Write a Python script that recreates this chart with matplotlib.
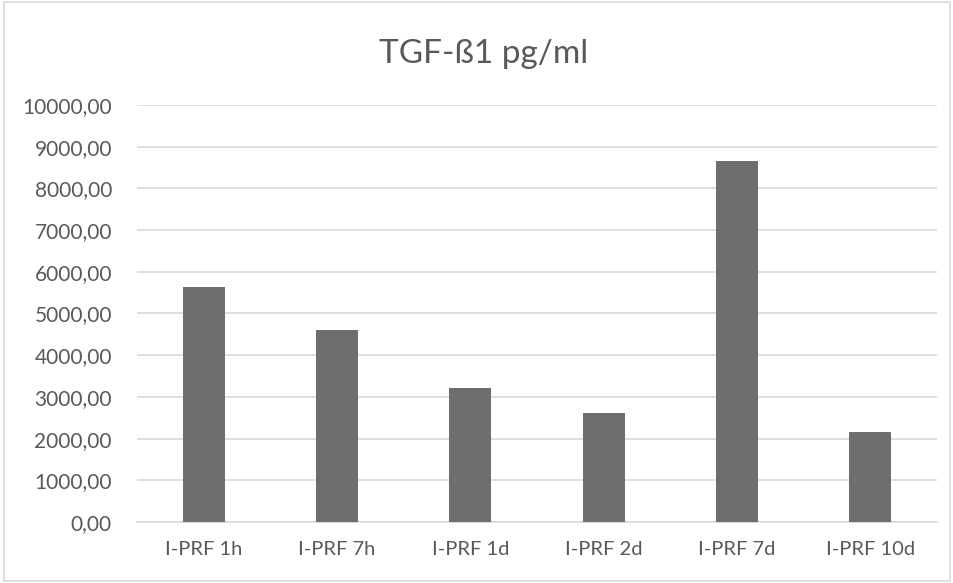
import matplotlib.pyplot as plt
from matplotlib.patches import Rectangle

categories = ['I-PRF 1h', 'I-PRF 7h', 'I-PRF 1d', 'I-PRF 2d', 'I-PRF 7d', 'I-PRF 10d']
values = [5630, 4610, 3210, 2610, 8650, 2170]
yticks = list(range(0, 10001, 1000))
ytick_labels = ['%d,00' % v for v in yticks]

plt.rcParams['font.family'] = ['Lato', 'DejaVu Sans']

fig = plt.figure(figsize=(9.54, 5.83), dpi=100)
ax = fig.add_axes([0.1436, 0.1046, 0.8384, 0.7154])

ax.bar(range(len(categories)), values, width=0.315, color='#6e6e6e', zorder=3)
ax.set_xlim(-0.5, len(categories) - 0.5)
ax.set_ylim(0, 10000)
ax.set_yticks(yticks)
ax.set_yticklabels(ytick_labels)
ax.set_xticks(range(len(categories)))
ax.set_xticklabels(categories)

ax.grid(axis='y', color='#d9d9d9', linewidth=1.2, zorder=0)
for s in ['top', 'right', 'left']:
    ax.spines[s].set_visible(False)
ax.spines['bottom'].set_color('#d9d9d9')
ax.spines['bottom'].set_linewidth(1.2)
ax.tick_params(length=0, colors='#595959')
ax.tick_params(axis='y', labelsize=15, pad=18)
ax.tick_params(axis='x', labelsize=14.5, pad=14)

fig.text(0.507, 0.892, 'TGF-ß1 pg/ml', ha='center', va='baseline', fontsize=24, color='#595959')

fig.patches.append(Rectangle((0.004, 0.004), 0.992, 0.992, transform=fig.transFigure,
                             fill=False, edgecolor='#d9d9d9', linewidth=1.2))

fig.savefig('out.png', dpi=100)
